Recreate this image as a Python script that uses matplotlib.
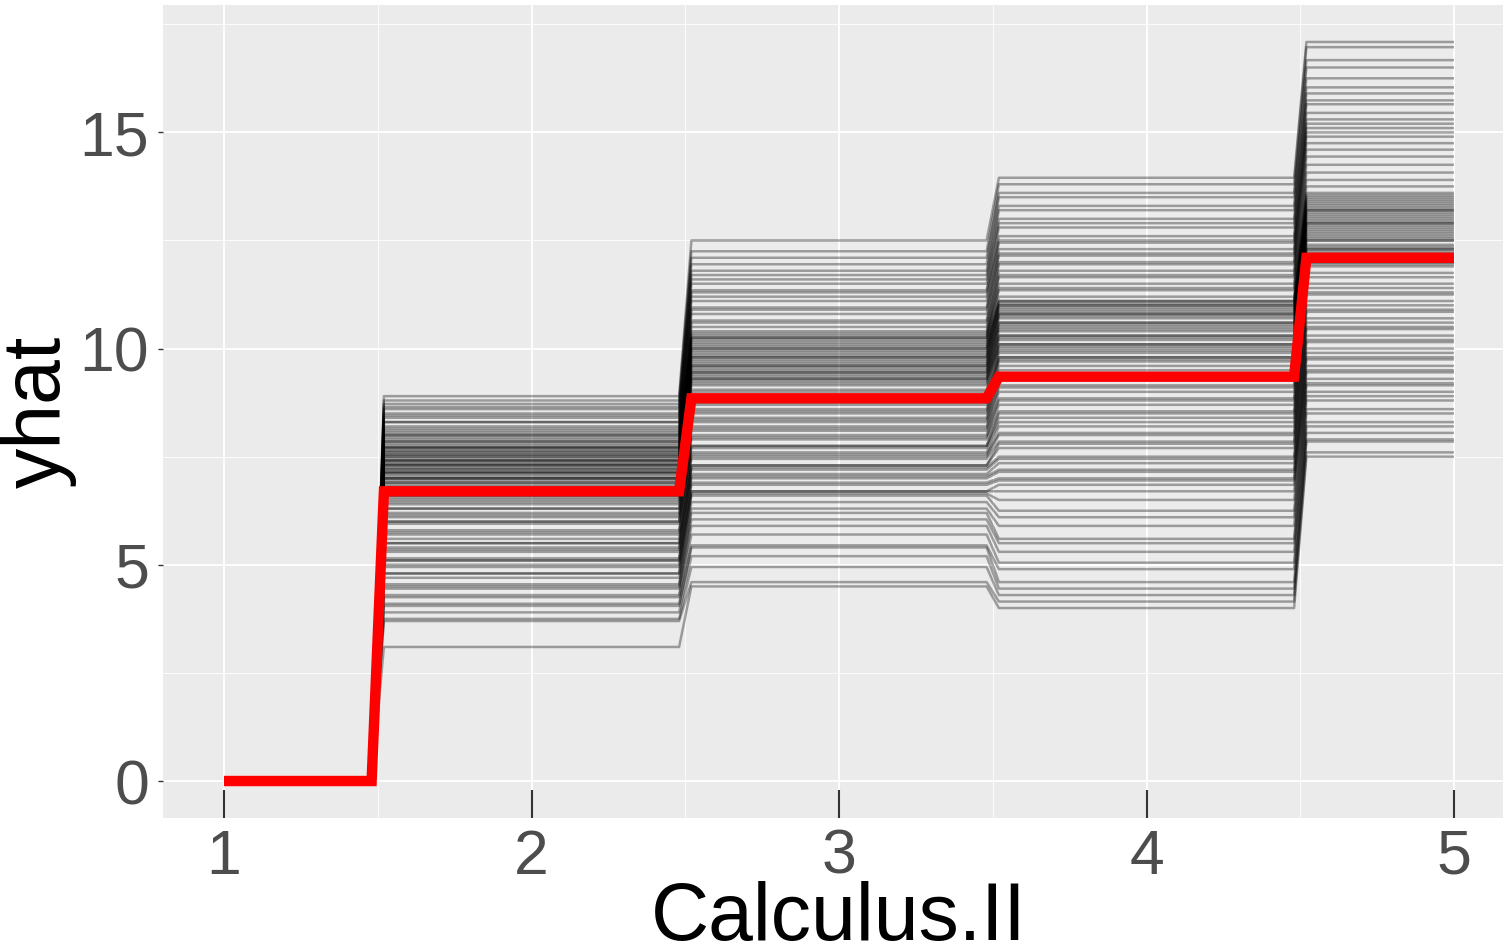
import matplotlib
matplotlib.use("Agg")
import matplotlib.pyplot as plt
from matplotlib.ticker import MultipleLocator

# ---- data ----
x_breaks = [1.0, 1.48, 1.52, 2.48, 2.52, 3.48, 3.52, 4.48, 4.52, 5.0]

# ICE curve levels on each plateau (sorted lists, paired by index)
seg2 = [3.1, 3.7, 3.75, 3.9, 4.05, 4.1, 4.25, 4.3, 4.45, 4.5, 4.55, 4.7, 4.8, 4.8, 4.95, 5.0,
        5.1, 5.1, 5.15, 5.3, 5.35, 5.4, 5.5, 5.5, 5.6, 5.7, 5.75, 5.8, 5.95, 6.0, 6.0, 6.1, 6.15,
        6.2, 6.3, 6.3, 6.4, 6.45, 6.5, 6.55, 6.6, 6.6, 6.7, 6.75, 6.8, 6.85,
        6.9, 6.9, 6.95, 7.0, 7.0, 7.0, 7.05, 7.1, 7.12, 7.15, 7.15, 7.2, 7.22, 7.25, 7.3, 7.3,
        7.32, 7.35, 7.4, 7.4, 7.42, 7.45, 7.5, 7.5, 7.55, 7.55, 7.6, 7.62, 7.65, 7.7, 7.7, 7.72,
        7.75, 7.8, 7.85, 7.85, 7.9, 7.95, 8.0, 8.0, 8.05, 8.1,
        8.15, 8.2, 8.3, 8.3, 8.4, 8.45, 8.5, 8.6, 8.65, 8.72, 8.8, 8.9]
seg3 = [4.5, 4.6, 4.95, 5.2, 5.4, 5.45, 5.7, 5.9, 6.05, 6.2, 6.3, 6.45,
        6.6, 6.65, 6.7, 6.7, 6.85, 6.9, 7.0, 7.05, 7.1, 7.2, 7.25, 7.3, 7.3, 7.45, 7.5, 7.55,
        7.6, 7.7, 7.75, 7.75, 7.9, 7.95, 8.0, 8.1, 8.15, 8.2, 8.3, 8.35, 8.4, 8.5,
        8.55, 8.6, 8.7, 8.75, 8.85, 8.9, 9.0, 9.05, 9.15, 9.2,
        9.25, 9.3, 9.3, 9.35, 9.4, 9.45, 9.45, 9.5, 9.55, 9.6, 9.6, 9.65, 9.7, 9.75, 9.8, 9.8,
        9.85, 9.9, 9.95, 10.0, 10.0, 10.05, 10.1, 10.15, 10.2, 10.25, 10.25, 10.3, 10.35, 10.4,
        10.5, 10.6, 10.65, 10.8, 10.9, 10.95, 11.1, 11.2, 11.3, 11.35, 11.5, 11.6, 11.7, 11.8,
        11.95, 12.1, 12.25, 12.5]
seg4 = [4.0, 4.15, 4.3, 4.45, 4.6, 4.9, 5.05, 5.3, 5.5, 5.6, 5.9, 6.1, 6.25, 6.5,
        6.7, 6.85, 6.95, 7.0, 7.15, 7.2, 7.35, 7.45, 7.5, 7.7, 7.8, 7.85, 8.0, 8.05, 8.2, 8.3,
        8.4, 8.5, 8.55, 8.7, 8.8, 8.85, 9.0, 9.1, 9.15, 9.3, 9.35, 9.4, 9.5, 9.6,
        9.7, 9.75, 9.8, 9.8, 9.9, 9.95, 10.0, 10.05, 10.1, 10.1, 10.2, 10.25, 10.3, 10.3, 10.4,
        10.45, 10.5, 10.55, 10.6, 10.6, 10.7, 10.75, 10.8, 10.8, 10.85, 10.9, 10.95, 11.0, 11.0,
        11.05, 11.1, 11.1,
        11.2, 11.35, 11.4, 11.5, 11.65, 11.7, 11.8, 11.95, 12.0, 12.15, 12.2, 12.3, 12.45, 12.5,
        12.6, 12.8, 12.9, 13.0, 13.2, 13.3, 13.5, 13.6, 13.8, 13.95]
seg5 = [7.5, 7.6, 7.85, 7.9, 8.05, 8.2, 8.3, 8.5, 8.6, 8.8, 8.9, 9.0, 9.15, 9.2, 9.3, 9.45,
        9.5, 9.6, 9.75, 9.8, 9.9, 10.0, 10.15, 10.2, 10.3, 10.45, 10.5, 10.6, 10.7, 10.85, 10.9,
        11.0, 11.1, 11.25, 11.3, 11.4, 11.5, 11.65, 11.75, 11.9,
        11.95, 12.0, 12.0, 12.05, 12.1, 12.15, 12.2, 12.25, 12.3, 12.3, 12.35, 12.4, 12.5, 12.5,
        12.55, 12.6, 12.65, 12.7, 12.75, 12.8, 12.85, 12.9, 12.9, 12.95, 13.0, 13.05, 13.1, 13.15,
        13.2, 13.2, 13.25, 13.3, 13.35, 13.4, 13.45, 13.5, 13.55, 13.6,
        13.75, 13.9, 14.07, 14.25, 14.44, 14.6, 14.75, 14.9, 15.0, 15.1, 15.2, 15.3, 15.45,
        15.65, 15.74, 15.9, 16.04, 16.25, 16.5, 16.67, 16.97, 17.09]

# average (PDP) levels on each plateau
pdp_levels = [0.0, 6.7, 8.85, 9.35, 12.1]

x_ticks = [1, 2, 3, 4, 5]
y_ticks = [0, 5, 10, 15]


def step_values(levels):
    vals = []
    for lv in levels:
        vals += [lv, lv]
    return vals


plt.rcParams['font.family'] = ['Liberation Sans', 'DejaVu Sans']

fig = plt.figure(figsize=(15.03, 9.48), dpi=100)
ax = fig.add_axes([162.5 / 1503, 1 - 818 / 948, (1515.5 - 162.5) / 1503, 813 / 948])
ax.set_facecolor('#EBEBEB')

for a, b, c, d in zip(seg2, seg3, seg4, seg5):
    ax.plot(x_breaks, step_values([0.0, a, b, c, d]), color='black', alpha=0.34, lw=1.8,
            solid_capstyle='butt', zorder=2)

ax.plot(x_breaks, step_values(pdp_levels), color='#FF0000', lw=7.5, zorder=3,
        solid_joinstyle='miter', solid_capstyle='butt')

ax.set_xlim(0.8, 5.2)
ax.set_ylim(-0.855, 17.945)
ax.set_xticks(x_ticks)
ax.set_yticks(y_ticks)
ax.xaxis.set_minor_locator(MultipleLocator(0.5))
ax.yaxis.set_minor_locator(MultipleLocator(2.5))
ax.grid(which='major', color='white', lw=1.3, zorder=0)
ax.grid(which='minor', color='white', lw=0.6, zorder=0)
ax.set_axisbelow(True)
for s in ax.spines.values():
    s.set_visible(False)

ax.tick_params(axis='x', which='major', direction='in', length=20, width=1.5,
               color='#333333', labelsize=45, labelcolor='#4D4D4D', pad=7)
ax.tick_params(axis='y', which='major', direction='out', length=3.6, width=1.0,
               color='#333333', labelsize=45, labelcolor='#4D4D4D', pad=6)
ax.tick_params(which='minor', length=0)

ax.set_xlabel('Calculus.II', fontsize=58, color='black', labelpad=-4)
ax.set_ylabel('yhat', fontsize=58, color='black', labelpad=2)

fig.savefig('out.png', dpi=100)
